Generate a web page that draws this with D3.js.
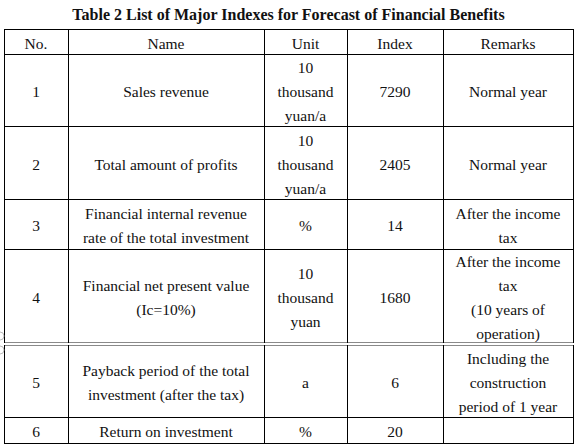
<!DOCTYPE html>
<html><head><meta charset="utf-8">
<script src="https://cdn.jsdelivr.net/npm/d3@7"></script>
<style>
html,body{margin:0;padding:0;background:#fff;}
svg{display:block;}
</style></head>
<body>
<svg id="chart" width="578" height="446"></svg>
<script>
const title = "Table 2 List of Major Indexes for Forecast of Financial Benefits";
const headers = ["No.", "Name", "Unit", "Index", "Remarks"];
const nos = ["1", "2", "3", "4", "5", "6"];
const names = ["Sales revenue", "Total amount of profits", "Financial internal revenue\nrate of the total investment", "Financial net present value\n(Ic=10%)", "Payback period of the total\ninvestment (after the tax)", "Return on investment"];
const units = ["10\nthousand\nyuan/a", "10\nthousand\nyuan/a", "%", "10\nthousand\nyuan", "a", "%"];
const indexes = ["7290", "2405", "14", "1680", "6", "20"];
const remarks = ["Normal year", "Normal year", "After the income\ntax", "After the income\ntax\n(10 years of\noperation)", "Including the\nconstruction\nperiod of 1 year", ""];

const FONT = "'Liberation Serif', 'Times New Roman', serif";
const svg = d3.select("#chart");
// layout
const colEdges = [4, 68, 264, 347, 443, 573];
const rowEdges = [29, 54, 126, 199, 249, 342, 417, 443];
const lineH = 24;

const colX = d3.scaleOrdinal().domain(headers).range(headers.map((h, i) => (colEdges[i] + colEdges[i + 1]) / 2));

svg.append("text").attr("x", 288.5).attr("y", 19.5).attr("text-anchor", "middle")
  .attr("font-family", FONT).style("font-family", FONT)
  .style("font-weight", "bold").style("font-size", "16px").attr("fill", "#111").text(title);

const rows = nos.map((n, i) => ({cells: [n, names[i], units[i], indexes[i], remarks[i]]}));
const allRows = [{cells: headers}].concat(rows);

const g = svg.append("g");
function rowTop(r) { return r === 5 ? rowEdges[5] + 3 : rowEdges[r]; }
function rowBot(r) { return rowEdges[r + 1]; }

allRows.forEach((row, r) => {
  const cy = (rowTop(r) + rowBot(r)) / 2 + 1.5;
  row.cells.forEach((c, j) => {
    const lines = c.split("\n");
    const t = g.append("text").attr("x", colX(headers[j])).attr("text-anchor", "middle")
      .attr("font-family", FONT).style("font-family", FONT)
      .style("font-size", "15.5px").attr("fill", "#111");
    lines.forEach((ln, k) => {
      const y = cy + (k - (lines.length - 1) / 2) * lineH + 5.5;
      t.append("tspan").attr("x", colX(headers[j])).attr("y", y)
        .style("font-family", FONT).text(ln);
    });
  });
});

// grid lines
const lg = svg.append("g").attr("shape-rendering", "crispEdges");
const L = colEdges[0], R = colEdges[colEdges.length - 1];
rowEdges.forEach((y, i) => {
  if (i === 5) {
    lg.append("line").attr("x1", L).attr("x2", R).attr("y1", y + 0.5).attr("y2", y + 0.5).attr("stroke", "#8a8a8a");
    lg.append("line").attr("x1", L).attr("x2", R).attr("y1", y + 3.5).attr("y2", y + 3.5).attr("stroke", "#8a8a8a");
  } else {
    lg.append("line").attr("x1", L).attr("x2", R).attr("y1", y + 0.5).attr("y2", y + 0.5).attr("stroke", "#000");
  }
});
colEdges.forEach(x => {
  lg.append("line").attr("x1", x + 0.5).attr("x2", x + 0.5).attr("y1", rowEdges[0]).attr("y2", rowEdges[5] + 1).attr("stroke", "#000");
  lg.append("line").attr("x1", x + 0.5).attr("x2", x + 0.5).attr("y1", rowEdges[5] + 3).attr("y2", rowEdges[7] + 1).attr("stroke", "#000");
});
// table-handle artifacts at left edge
[336, 350].forEach(y => {
  svg.append("circle").attr("cx", 0).attr("cy", y).attr("r", 4).attr("fill", "none").attr("stroke", "#aaa").attr("stroke-width", 0.8);
});
</script>
</body></html>
